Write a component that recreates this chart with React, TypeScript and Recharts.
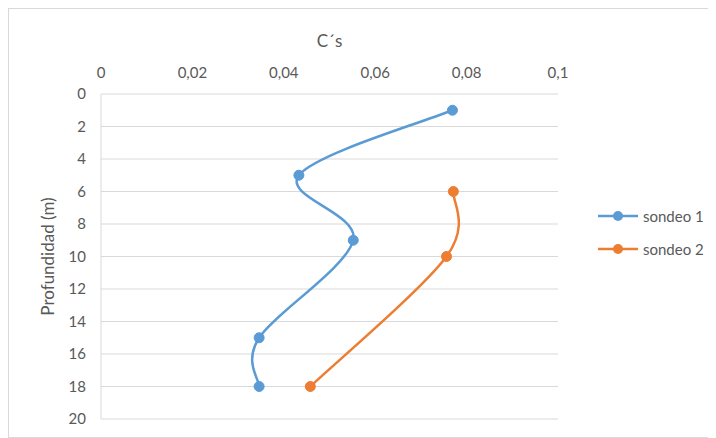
import { CartesianGrid, Legend, Line, LineChart, XAxis, YAxis } from "recharts";

const depth1 = [1, 5, 9, 15, 18];
const cs1 = [0.0769, 0.0433, 0.0552, 0.0346, 0.0346];
const depth2 = [6, 10, 18];
const cs2 = [0.0771, 0.0756, 0.0458];
const xTicks = [0, 0.02, 0.04, 0.06, 0.08, 0.1];
const yTicks = [0, 2, 4, 6, 8, 10, 12, 14, 16, 18, 20];
const seriesNames = ["sondeo 1", "sondeo 2"];
const COLORS = ["#5B9BD5", "#ED7D31"];

const sondeo1 = depth1.map((d, i) => ({ depth: d, cs: cs1[i] }));
const sondeo2 = depth2.map((d, i) => ({ depth: d, cs: cs2[i] }));

const FONT = "Lato, 'Open Sans', sans-serif";
const TEXT = "#595959";

// smoothed line like excel (catmull-rom style bezier)
const smoothCurve = (context: any) => {
  let pts: number[][] = [];
  return {
    areaStart() {},
    areaEnd() {},
    lineStart() {
      pts = [];
    },
    point(x: number, y: number) {
      pts.push([+x, +y]);
    },
    lineEnd() {
      const n = pts.length;
      if (!n) return;
      context.moveTo(pts[0][0], pts[0][1]);
      for (let i = 0; i < n - 1; i++) {
        const p0 = pts[Math.max(i - 1, 0)];
        const p1 = pts[i];
        const p2 = pts[i + 1];
        const p3 = pts[Math.min(i + 2, n - 1)];
        context.bezierCurveTo(
          p1[0] + (p2[0] - p0[0]) / 6,
          p1[1] + (p2[1] - p0[1]) / 6,
          p2[0] - (p3[0] - p1[0]) / 6,
          p2[1] - (p3[1] - p1[1]) / 6,
          p2[0],
          p2[1]
        );
      }
    },
  };
};

const fmt = (v: number) => String(v).replace(".", ",");

const LegendContent = () => (
  <div style={{ fontFamily: FONT, fontSize: 15, color: TEXT }}>
    {seriesNames.map((name, i) => (
      <div key={name} style={{ display: "flex", alignItems: "center", height: 33 }}>
        <svg width={45} height={12}>
          <line x1={0} y1={6} x2={40} y2={6} stroke={COLORS[i]} strokeWidth={2.5} />
          <circle cx={20} cy={6} r={5} fill={COLORS[i]} />
        </svg>
        <span>{name}</span>
      </div>
    ))}
  </div>
);

const App = () => {
  return (
    <div
      style={{
        width: 708,
        height: 430,
        border: "1px solid #d9d9d9",
        boxSizing: "border-box",
        background: "#fff",
      }}
    >
      <LineChart
        width={706}
        height={428}
        layout="vertical"
        margin={{ top: 0, right: 37, bottom: 18, left: 0 }}
      >
        <CartesianGrid horizontal vertical={false} stroke="#d9d9d9" />
        <XAxis
          type="number"
          dataKey="cs"
          orientation="top"
          domain={[0, 0.1]}
          ticks={xTicks}
          tickFormatter={fmt}
          height={85}
          axisLine={false}
          tickLine={false}
          tickMargin={10}
          tick={{ fill: TEXT, fontSize: 15, fontFamily: FONT }}
          label={{
            value: "C´s",
            position: "insideTop",
            offset: 26,
            fill: TEXT,
            fontSize: 17,
            fontFamily: FONT,
          }}
        />
        <YAxis
          type="number"
          dataKey="depth"
          domain={[0, 20]}
          ticks={yTicks}
          width={92}
          axisLine={{ stroke: "#d9d9d9" }}
          tickLine={false}
          tickMargin={9}
          tick={{ fill: TEXT, fontSize: 15, fontFamily: FONT }}
          label={{
            value: "Profundidad (m)",
            angle: -90,
            position: "center",
            dx: -7,
            fill: TEXT,
            fontSize: 17,
            fontFamily: FONT,
          }}
        />
        <Legend
          layout="horizontal"
          verticalAlign="middle"
          align="right"
          content={<LegendContent />}
          wrapperStyle={{ left: 589, top: 190, width: 120 }}
        />
        <Line
          data={sondeo1}
          dataKey="cs"
          name={seriesNames[0]}
          type={smoothCurve as any}
          stroke={COLORS[0]}
          strokeWidth={2.5}
          dot={{ r: 5, fill: COLORS[0], stroke: COLORS[0], strokeWidth: 1 }}
          isAnimationActive={false}
        />
        <Line
          data={sondeo2}
          dataKey="cs"
          name={seriesNames[1]}
          type={smoothCurve as any}
          stroke={COLORS[1]}
          strokeWidth={2.5}
          dot={{ r: 5, fill: COLORS[1], stroke: COLORS[1], strokeWidth: 1 }}
          isAnimationActive={false}
        />
      </LineChart>
    </div>
  );
};

export default App;
